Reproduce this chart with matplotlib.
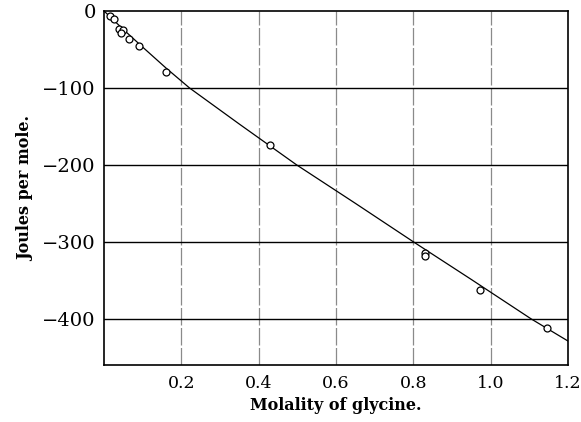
import matplotlib
matplotlib.use("Agg")
import matplotlib.pyplot as plt

# Measured points (molality, J/mol)
molality = [0.016, 0.026, 0.039, 0.049, 0.044, 0.065, 0.091, 0.161, 0.430, 0.831, 0.831, 0.971, 1.145]
joules = [-6, -10, -23, -25, -29, -37, -45, -79, -174, -315, -318, -362, -412]

# Smooth curve readings
curve_x = [0.0, 0.05, 0.10, 0.16, 0.221, 0.35, 0.498, 0.65, 0.80, 0.95, 1.104, 1.2]
curve_y = [0, -24, -47, -74, -100, -147, -200, -250, -300, -349, -400, -429]

xticks = [0.2, 0.4, 0.6, 0.8, 1.0, 1.2]
xticklabels = ["0.2", "0.4", "0.6", "0.8", "1.0", "1.2"]
yticks = [0, -100, -200, -300, -400]
yticklabels = ["0", "\u2212100", "\u2212200", "\u2212300", "\u2212400"]

plt.rcParams['font.family'] = ['DejaVu Serif']
fig = plt.figure(figsize=(5.81, 4.22), dpi=100)
ax = fig.add_axes([0.179, 0.135, 0.799, 0.839])

ax.set_xlim(0, 1.2)
ax.set_ylim(-460, 0)

for xv in xticks[:-1]:
    ax.axvline(xv, color='#8a8a8a', lw=0.9, dashes=(14, 2), zorder=1)
for yv in yticks[1:]:
    ax.axhline(yv, color='black', lw=1.0, zorder=1)

ax.plot(curve_x, curve_y, color='black', lw=0.9, zorder=2)
ax.plot(molality, joules, linestyle='none', marker='o', markersize=5,
        markerfacecolor='white', markeredgecolor='black', markeredgewidth=0.9, zorder=3)

ax.set_xticks(xticks)
ax.set_xticklabels(xticklabels, fontsize=12.5)
ax.set_yticks(yticks)
ax.set_yticklabels(yticklabels, fontsize=14)
ax.tick_params(length=0)
ax.tick_params(axis='x', pad=7)
ax.tick_params(axis='y', pad=6)
for s in ax.spines.values():
    s.set_linewidth(1.2)

ax.set_xlabel("Molality of glycine.", fontsize=11.5, fontweight='bold', labelpad=4)
ax.set_ylabel("Joules per mole.", fontsize=11.5, fontweight='bold', labelpad=6)

fig.savefig("out.png", dpi=100)
